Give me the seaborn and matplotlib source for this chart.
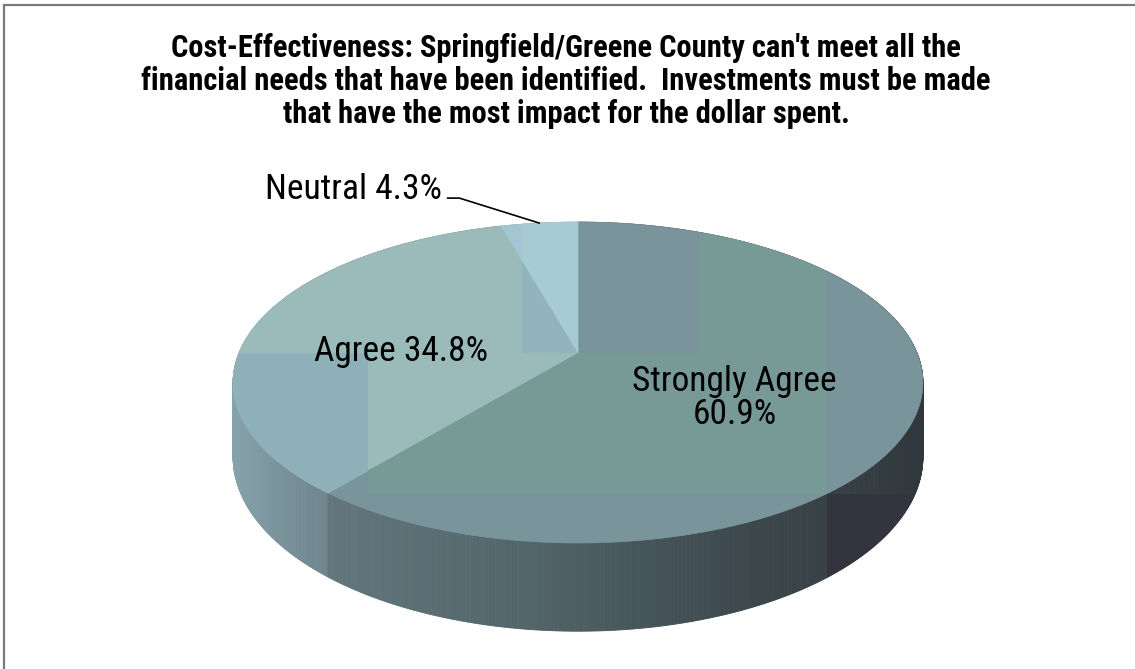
import numpy as np
import matplotlib
matplotlib.use("Agg")
import matplotlib.pyplot as plt
import seaborn as sns
from matplotlib import font_manager
from matplotlib.patches import Polygon, Rectangle
from matplotlib.collections import PolyCollection
from matplotlib.lines import Line2D

# ---------------- data ----------------
categories = ["Strongly Agree", "Agree", "Neutral"]
shares = [60.9, 34.8, 4.3]
label_texts = ["Strongly Agree\n60.9%", "Agree 34.8%", "Neutral 4.3%"]
title_text = ("Cost-Effectiveness: Springfield/Greene County can't meet all the\n"
              "financial needs that have been identified.  Investments must be made\n"
              "that have the most impact for the dollar spent.")

# ---------------- style ----------------
top_colors = ["#7a949c", "#9bbbbb", "#a4c6d2"]
wall_stops = [["#62767d", "#52656b", "#3e4a4f", "#30383c"],
              ["#86a2aa", "#6d858d"],
              ["#8fb0b8", "#8fb0b8"]]
# rendering tiles of the original 3-D shading: (slice, x0, x1, y0, y1, colour)
# expressed in fractions of the pie radii
top_tiles = [(0, -0.62, 0.735, 0.0, 0.91, "#779a97"),
             (0, 0.36, 0.735, -1.2, 0.0, "#779a97"),
             (1, -1.2, -0.62, 0.0, 1.5, "#8eb0b8"),
             (1, -0.165, 0.0, -1.2, 0.0, "#92b4bc"),
             (2, -0.165, 0.0, -1.2, 0.0, "#a7cbd3")]
wall_tiles = [(0, 0.735, 1.2, 0.91, 2.0, "#33343e")]

sns.set_theme(style="white")
installed = {f.name for f in font_manager.fontManager.ttflist}
cands = ['Liberation Sans Narrow', 'Arial Narrow', 'Roboto Condensed']
narrow = [c for c in cands if c in installed]
plt.rcParams['font.family'] = narrow + ['Liberation Sans', 'DejaVu Sans']

W, H = 1135, 669
fig = plt.figure(figsize=(W / 100, H / 100), dpi=100)
ax = fig.add_axes([0, 0, 1, 1])
ax.set_xlim(0, W)
ax.set_ylim(H, 0)
ax.axis('off')

CX, CY = 578, 353
A, B, K = 339, 155, 0.184
D = 72


def proj(alpha_deg, r=1.0):
    a = np.radians(alpha_deg)
    u = r * np.sin(a)
    v = -r * np.cos(a)
    den = 1 - K * v
    return CX + A * u / den, CY + B * v / den, v, den


def tile(x0, x1, y0, y1, color, clip):
    r = Rectangle((CX + A * x0, CY + B * y0), A * (x1 - x0), B * (y1 - y0),
                  facecolor=color, edgecolor='none', linewidth=0)
    ax.add_patch(r)
    r.set_clip_path(clip)


total = sum(shares)
angles = np.concatenate([[0], np.cumsum(shares) / total * 360])

strips = []
wall_outlines = []
for i in range(len(shares)):
    a0, a1 = angles[i], angles[i + 1]
    n = max(int((a1 - a0) * 3), 4)
    al = np.linspace(a0, a1, n + 1)
    x, y, v, den = proj(al)
    yb = y + D / den
    wall_outlines.append(list(zip(x, y)) + list(zip(x[::-1], yb[::-1])))
    cmap = sns.blend_palette(wall_stops[i], n_colors=256, as_cmap=True)
    vis = v > -0.3
    xs = x[vis] if vis.any() else x
    xmin, xmax = xs.min(), xs.max()
    for j in range(n):
        poly = [(x[j], y[j]), (x[j + 1], y[j + 1]), (x[j + 1], yb[j + 1]), (x[j], yb[j])]
        xm = 0.5 * (x[j] + x[j + 1])
        f = 0 if xmax == xmin else np.clip((xm - xmin) / (xmax - xmin), 0, 1)
        strips.append((0.5 * (v[j] + v[j + 1]), poly, cmap(f)))
strips.sort(key=lambda s: s[0])
pc = PolyCollection([s[1] for s in strips], facecolors=[s[2] for s in strips],
                    edgecolors=[s[2] for s in strips], linewidths=0.6)
ax.add_collection(pc)

for (si, x0, x1, y0, y1, c) in wall_tiles:
    clip = Polygon(wall_outlines[si], closed=True, transform=ax.transData)
    tile(x0, x1, y0, y1, c, clip)

top_patches = []
for i in range(len(shares)):
    a0, a1 = angles[i], angles[i + 1]
    al = np.linspace(a0, a1, max(int((a1 - a0) * 3), 4) + 1)
    x, y, _, _ = proj(al)
    pts = [(CX, CY)] + list(zip(x, y))
    p = Polygon(pts, closed=True, facecolor=top_colors[i],
                edgecolor=top_colors[i], linewidth=0.5)
    ax.add_patch(p)
    top_patches.append(p)

for (si, x0, x1, y0, y1, c) in top_tiles:
    tile(x0, x1, y0, y1, c, top_patches[si])

LBL = 25.5
mids = (angles[:-1] + angles[1:]) / 2
lx, ly, _, _ = proj(mids[0], 0.47)
ax.text(lx + 2, ly + 20, label_texts[0], ha='center', va='center',
        fontsize=LBL, color='black', linespacing=1.0)
lx, ly, _, _ = proj(mids[1], 0.52)
ax.text(lx - 8, ly + 15, label_texts[1], ha='center', va='center',
        fontsize=LBL, color='black')
ex, ey, _, _ = proj(mids[2], 1.0)
ax.add_line(Line2D([ex, ex - 80, ex - 92], [ey, ey - 25, ey - 25],
                   color='black', linewidth=1.2))
ax.text(ex - 97, ey - 24, label_texts[2], ha='right', va='baseline',
        fontsize=LBL, color='black')

fig.text(566 / W, 1 - 81 / H, title_text, ha='center', va='center',
         fontsize=22, fontweight='bold', color='black', linespacing=1.14)

fig.patches.append(Rectangle((4 / W, -0.1), 1.2, 1 - 5 / H + 0.1,
                             transform=fig.transFigure, fill=False,
                             edgecolor='#7a7a7a', linewidth=1.6))

fig.savefig("out.png", dpi=100, facecolor='white')
